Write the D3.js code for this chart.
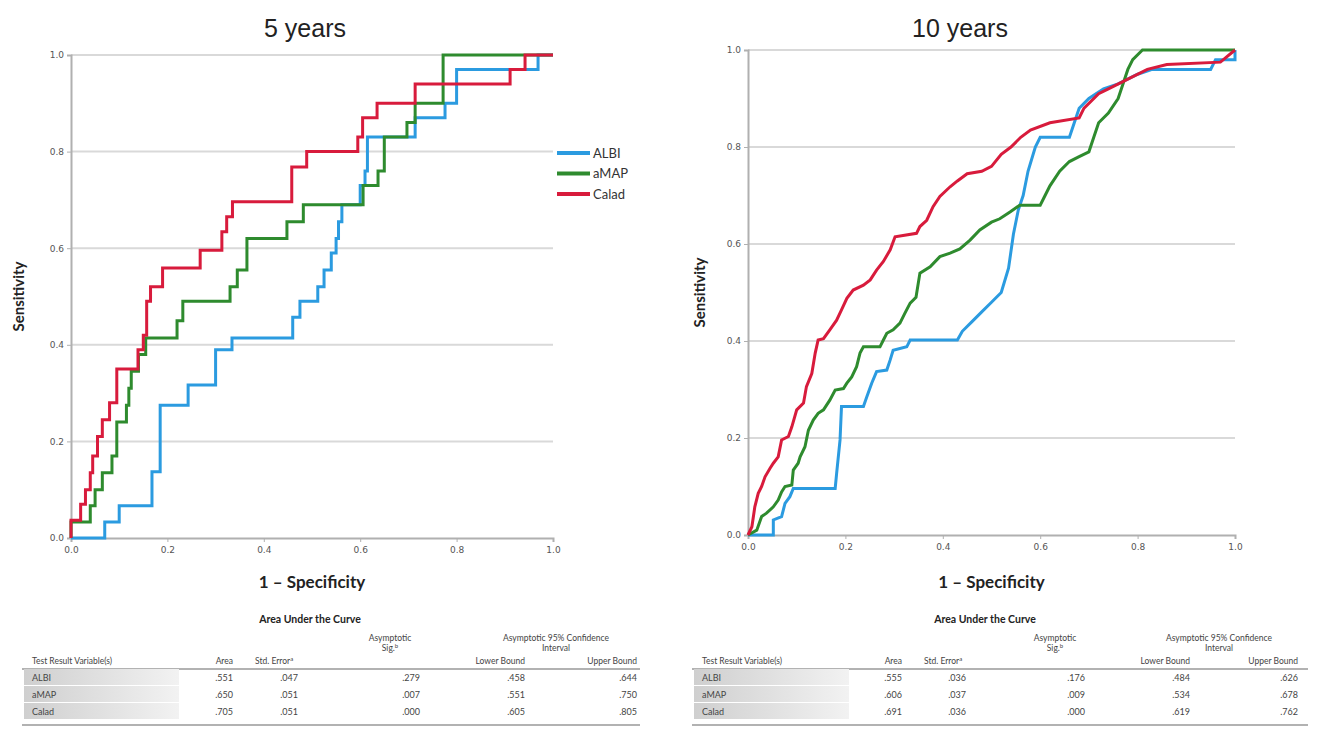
<!DOCTYPE html>
<html><head><meta charset="utf-8">
<script src="https://cdn.jsdelivr.net/npm/d3@7"></script>
<style>
body{margin:0;background:#fff;}
svg{display:block;}
</style></head>
<body>
<svg id="chart" width="1317" height="753"></svg>
<script>
// ---------------- DATA ----------------
const seriesNames = ["ALBI", "aMAP", "Calad"];
const seriesColors = ["#2b9be0", "#2e8b2e", "#d81b3c"];
const axisTicks = [0, 0.2, 0.4, 0.6, 0.8, 1.0];
const tickLabels = ["0.0", "0.2", "0.4", "0.6", "0.8", "1.0"];
const panelTitles = ["5 years", "10 years"];

// 5 years ROC (1 - specificity, sensitivity)
const roc5_ALBI = [[0,0],[0.07,0],[0.07,0.033],[0.10,0.033],[0.10,0.067],[0.168,0.067],[0.168,0.137],[0.185,0.137],[0.185,0.275],[0.243,0.275],[0.243,0.317],[0.30,0.317],[0.30,0.39],[0.334,0.39],[0.334,0.414],[0.46,0.414],[0.46,0.457],[0.475,0.457],[0.475,0.49],[0.512,0.49],[0.512,0.52],[0.525,0.52],[0.525,0.555],[0.54,0.555],[0.54,0.59],[0.55,0.59],[0.55,0.62],[0.555,0.62],[0.555,0.655],[0.562,0.655],[0.562,0.69],[0.60,0.69],[0.60,0.73],[0.61,0.73],[0.61,0.76],[0.615,0.76],[0.615,0.83],[0.714,0.83],[0.714,0.87],[0.776,0.87],[0.776,0.90],[0.80,0.90],[0.80,0.97],[0.969,0.97],[0.969,1.0],[1,1]];
const roc5_aMAP = [[0,0],[0,0.033],[0.04,0.033],[0.04,0.067],[0.05,0.067],[0.05,0.10],[0.065,0.10],[0.065,0.135],[0.085,0.135],[0.085,0.17],[0.095,0.17],[0.095,0.24],[0.115,0.24],[0.115,0.275],[0.12,0.275],[0.12,0.31],[0.125,0.31],[0.125,0.345],[0.14,0.345],[0.14,0.38],[0.155,0.38],[0.155,0.414],[0.22,0.414],[0.22,0.45],[0.232,0.45],[0.232,0.49],[0.33,0.49],[0.33,0.52],[0.345,0.52],[0.345,0.555],[0.365,0.555],[0.365,0.62],[0.448,0.62],[0.448,0.655],[0.482,0.655],[0.482,0.69],[0.606,0.69],[0.606,0.73],[0.637,0.73],[0.637,0.76],[0.65,0.76],[0.65,0.83],[0.697,0.83],[0.697,0.86],[0.714,0.86],[0.714,0.90],[0.772,0.90],[0.772,1.0],[1,1]];
const roc5_Calad = [[0,0],[0,0.037],[0.02,0.037],[0.02,0.07],[0.03,0.07],[0.03,0.10],[0.04,0.10],[0.04,0.135],[0.045,0.135],[0.045,0.17],[0.055,0.17],[0.055,0.21],[0.065,0.21],[0.065,0.245],[0.08,0.245],[0.08,0.28],[0.095,0.28],[0.095,0.35],[0.139,0.35],[0.139,0.39],[0.15,0.39],[0.15,0.42],[0.157,0.42],[0.157,0.49],[0.165,0.49],[0.165,0.52],[0.19,0.52],[0.19,0.559],[0.268,0.559],[0.268,0.596],[0.313,0.596],[0.313,0.634],[0.323,0.634],[0.323,0.665],[0.335,0.665],[0.335,0.696],[0.458,0.696],[0.458,0.768],[0.489,0.768],[0.489,0.80],[0.595,0.80],[0.595,0.83],[0.605,0.83],[0.605,0.87],[0.635,0.87],[0.635,0.90],[0.714,0.90],[0.714,0.94],[0.911,0.94],[0.911,0.97],[0.942,0.97],[0.942,1.0],[1,1]];

// 10 years ROC
const roc10_ALBI = [[0,0],[0.052,0],[0.052,0.031],[0.069,0.038],[0.076,0.065],[0.086,0.079],[0.093,0.096],[0.179,0.096],[0.182,0.127],[0.189,0.196],[0.192,0.265],[0.237,0.265],[0.244,0.285],[0.254,0.313],[0.264,0.337],[0.285,0.34],[0.292,0.361],[0.298,0.381],[0.326,0.388],[0.333,0.402],[0.43,0.402],[0.44,0.42],[0.46,0.44],[0.48,0.46],[0.50,0.48],[0.52,0.50],[0.535,0.55],[0.545,0.62],[0.555,0.67],[0.565,0.70],[0.575,0.75],[0.59,0.80],[0.60,0.82],[0.66,0.82],[0.67,0.85],[0.68,0.88],[0.70,0.90],[0.73,0.92],[0.76,0.93],[0.80,0.95],[0.83,0.96],[0.95,0.96],[0.96,0.98],[1,0.98],[1,1]];
const roc10_aMAP = [[0,0],[0.018,0.01],[0.028,0.038],[0.038,0.045],[0.052,0.058],[0.062,0.072],[0.069,0.089],[0.076,0.10],[0.09,0.103],[0.093,0.134],[0.103,0.148],[0.107,0.161],[0.117,0.182],[0.124,0.216],[0.134,0.237],[0.144,0.251],[0.155,0.258],[0.168,0.278],[0.179,0.299],[0.196,0.302],[0.203,0.313],[0.213,0.326],[0.223,0.347],[0.23,0.375],[0.237,0.388],[0.271,0.388],[0.278,0.402],[0.285,0.416],[0.298,0.423],[0.312,0.437],[0.322,0.457],[0.333,0.478],[0.345,0.49],[0.353,0.54],[0.374,0.553],[0.394,0.574],[0.415,0.581],[0.435,0.59],[0.456,0.608],[0.476,0.629],[0.50,0.645],[0.517,0.652],[0.538,0.666],[0.558,0.68],[0.60,0.68],[0.61,0.70],[0.62,0.72],[0.64,0.75],[0.66,0.77],[0.68,0.78],[0.70,0.79],[0.71,0.82],[0.72,0.85],[0.74,0.87],[0.76,0.90],[0.77,0.93],[0.78,0.96],[0.79,0.98],[0.81,1.0],[1,1]];
const roc10_Calad = [[0,0],[0.008,0.017],[0.014,0.058],[0.021,0.086],[0.028,0.10],[0.035,0.12],[0.045,0.137],[0.052,0.148],[0.062,0.161],[0.069,0.196],[0.083,0.203],[0.09,0.223],[0.10,0.258],[0.114,0.272],[0.12,0.306],[0.131,0.333],[0.138,0.375],[0.144,0.402],[0.155,0.405],[0.168,0.423],[0.182,0.443],[0.192,0.464],[0.203,0.488],[0.216,0.505],[0.237,0.515],[0.251,0.526],[0.264,0.546],[0.278,0.564],[0.292,0.588],[0.302,0.615],[0.346,0.622],[0.353,0.636],[0.367,0.649],[0.38,0.677],[0.394,0.698],[0.415,0.718],[0.43,0.73],[0.45,0.745],[0.48,0.75],[0.50,0.76],[0.52,0.785],[0.54,0.80],[0.56,0.82],[0.58,0.835],[0.62,0.85],[0.68,0.86],[0.69,0.88],[0.72,0.91],[0.74,0.92],[0.78,0.94],[0.82,0.96],[0.86,0.97],[0.97,0.975],[1.0,1.0]];

// AUC tables
const tableHeaders = ["Test Result Variable(s)", "Area", "Std. Error", "Asymptotic Sig.", "Lower Bound", "Upper Bound"];
const auc5 = [".551", ".650", ".705"];
const se5 = [".047", ".051", ".051"];
const sig5 = [".279", ".007", ".000"];
const lo5 = [".458", ".551", ".605"];
const hi5 = [".644", ".750", ".805"];
const auc10 = [".555", ".606", ".691"];
const se10 = [".036", ".037", ".036"];
const sig10 = [".176", ".009", ".000"];
const lo10 = [".484", ".534", ".619"];
const hi10 = [".626", ".678", ".762"];

// ---------------- DRAW ----------------
const svg = d3.select("#chart");
const labelFont = "Lato, 'Open Sans', sans-serif";

const panels = [
  {title: panelTitles[0], x0: 71, x1: 553, yTop: 55, yBot: 538, titleX: 305, ylabX: 19, curves: [roc5_ALBI, roc5_aMAP, roc5_Calad],
   table: {x0: 22, x1: 640, cx: 310, cols: [233, 298, 420, 525, 637], vals: [auc5, se5, sig5, lo5, hi5]}},
  {title: panelTitles[1], x0: 748, x1: 1235, yTop: 50, yBot: 535, titleX: 960, ylabX: 700, curves: [roc10_ALBI, roc10_aMAP, roc10_Calad],
   table: {x0: 692, x1: 1308, cx: 985, cols: [902, 966, 1085, 1190, 1298], vals: [auc10, se10, sig10, lo10, hi10]}}
];

panels.forEach((p, pi) => {
  const g = svg.append("g");
  const x = d3.scaleLinear().domain([0, 1]).range([p.x0, p.x1]);
  const y = d3.scaleLinear().domain([0, 1]).range([p.yBot, p.yTop]);

  // gridlines
  g.append("g").selectAll("line").data(axisTicks.slice(1)).join("line")
    .attr("x1", p.x0).attr("x2", p.x1)
    .attr("y1", d => y(d)).attr("y2", d => y(d))
    .attr("stroke", "#d9d9d9").attr("stroke-width", 2);

  // axes
  const yAxis = d3.axisLeft(y).tickValues(axisTicks).tickFormat((d, i) => tickLabels[i]).tickSize(4);
  const xAxis = d3.axisBottom(x).tickValues(axisTicks).tickFormat((d, i) => tickLabels[i]).tickSize(4);
  const ya = g.append("g").attr("transform", `translate(${p.x0},0)`).call(yAxis);
  const xa = g.append("g").attr("transform", `translate(0,${p.yBot})`).call(xAxis);
  [ya, xa].forEach(a => {
    a.select(".domain").attr("stroke", "#b0b0b0").attr("stroke-width", 2);
    a.selectAll(".tick line").attr("stroke", "#b0b0b0");
    a.selectAll("text").attr("fill", "#555").attr("font-size", 9).attr("font-family", "'DejaVu Sans', sans-serif");
  });
  xa.selectAll("text").attr("dy", "0.9em");

  // curves
  const line = d3.line().x(d => x(d[0])).y(d => y(d[1])).curve(d3.curveLinear);
  p.curves.forEach((c, i) => {
    g.append("path").datum(c).attr("d", line)
      .attr("fill", "none").attr("stroke", seriesColors[i]).attr("stroke-width", 3)
      .attr("stroke-linejoin", "miter");
  });

  // title
  g.append("text").attr("x", p.titleX).attr("y", 37).attr("text-anchor", "middle")
    .attr("font-family", "'Liberation Sans', Arial, sans-serif").attr("font-size", 25).attr("fill", "#222").text(p.title);
  // axis labels
  g.append("text").attr("transform", `translate(${p.ylabX + 5},${(p.yTop + p.yBot) / 2}) rotate(-90)`)
    .attr("text-anchor", "middle").attr("font-family", labelFont).attr("font-weight", "bold")
    .attr("font-size", 15).attr("fill", "#222").text("Sensitivity");
  g.append("text").attr("x", (p.x0 + p.x1) / 2).attr("y", 588).attr("text-anchor", "middle")
    .attr("font-family", labelFont).attr("font-weight", "bold").attr("font-size", 17).attr("fill", "#222")
    .text("1 – Specificity");

  // table
  const t = p.table;
  const tg = g.append("g").attr("font-family", labelFont).attr("fill", "#444");
  tg.append("text").attr("x", t.cx).attr("y", 623).attr("text-anchor", "middle")
    .attr("font-size", 10.5).attr("font-weight", "bold").attr("fill", "#222").text("Area Under the Curve");
  tg.append("text").attr("x", t.cols[2] - 30).attr("y", 641).attr("text-anchor", "middle").attr("font-size", 8.5).text("Asymptotic");
  const sigT = tg.append("text").attr("x", t.cols[2] - 30).attr("y", 651).attr("text-anchor", "middle").attr("font-size", 8.5);
  sigT.append("tspan").text("Sig.");
  sigT.append("tspan").attr("font-size", 6).attr("dy", -3).text("b");
  tg.append("text").attr("x", (t.cols[3] + t.cols[4]) / 2 - 25).attr("y", 641).attr("text-anchor", "middle").attr("font-size", 8.5).text("Asymptotic 95% Confidence");
  tg.append("text").attr("x", (t.cols[3] + t.cols[4]) / 2 - 25).attr("y", 651).attr("text-anchor", "middle").attr("font-size", 8.5).text("Interval");
  tg.append("text").attr("x", t.x0 + 10).attr("y", 664).attr("font-size", 8.5).text(tableHeaders[0]);
  tg.append("text").attr("x", t.cols[0]).attr("y", 664).attr("text-anchor", "end").attr("font-size", 8.5).text(tableHeaders[1]);
  const seT = tg.append("text").attr("x", t.cols[0] + 22).attr("y", 664).attr("font-size", 8.5);
  seT.append("tspan").text(tableHeaders[2]);
  seT.append("tspan").attr("font-size", 6).attr("dy", -3).text("a");
  tg.append("text").attr("x", t.cols[3]).attr("y", 664).attr("text-anchor", "end").attr("font-size", 8.5).text(tableHeaders[4]);
  tg.append("text").attr("x", t.cols[4]).attr("y", 664).attr("text-anchor", "end").attr("font-size", 8.5).text(tableHeaders[5]);

  tg.append("line").attr("x1", t.x0).attr("x2", t.x1).attr("y1", 669).attr("y2", 669).attr("stroke", "#999").attr("stroke-width", 1.5);
  tg.append("line").attr("x1", t.x0).attr("x2", t.x1).attr("y1", 725).attr("y2", 725).attr("stroke", "#999").attr("stroke-width", 1.5);

  const rowY = [681, 698, 715];
  const grad = svg.append("defs").append("linearGradient").attr("id", "rowgrad" + pi);
  grad.append("stop").attr("offset", "0%").attr("stop-color", "#cfcfcf");
  grad.append("stop").attr("offset", "100%").attr("stop-color", "#f2f2f2");
  seriesNames.forEach((s, i) => {
    tg.append("rect").attr("x", t.x0 + 2).attr("y", rowY[i] - 12).attr("width", 155).attr("height", 16)
      .attr("fill", `url(#rowgrad${pi})`);
    tg.append("text").attr("x", t.x0 + 10).attr("y", rowY[i]).attr("font-size", 9).text(s);
    t.vals.forEach((col, ci) => {
      tg.append("text").attr("x", t.cols[ci]).attr("y", rowY[i]).attr("text-anchor", "end").attr("font-size", 9).text(col[i]);
    });
  });
});

// legend
const lg = svg.append("g").attr("transform", "translate(557,153)");
seriesNames.forEach((s, i) => {
  lg.append("line").attr("x1", 0).attr("x2", 33).attr("y1", i * 20.5).attr("y2", i * 20.5)
    .attr("stroke", seriesColors[i]).attr("stroke-width", 4);
  lg.append("text").attr("x", 36).attr("y", i * 20.5).attr("dy", "0.35em")
    .attr("font-family", labelFont).attr("font-size", 13).attr("fill", "#333").text(s);
});
</script>
</body></html>
